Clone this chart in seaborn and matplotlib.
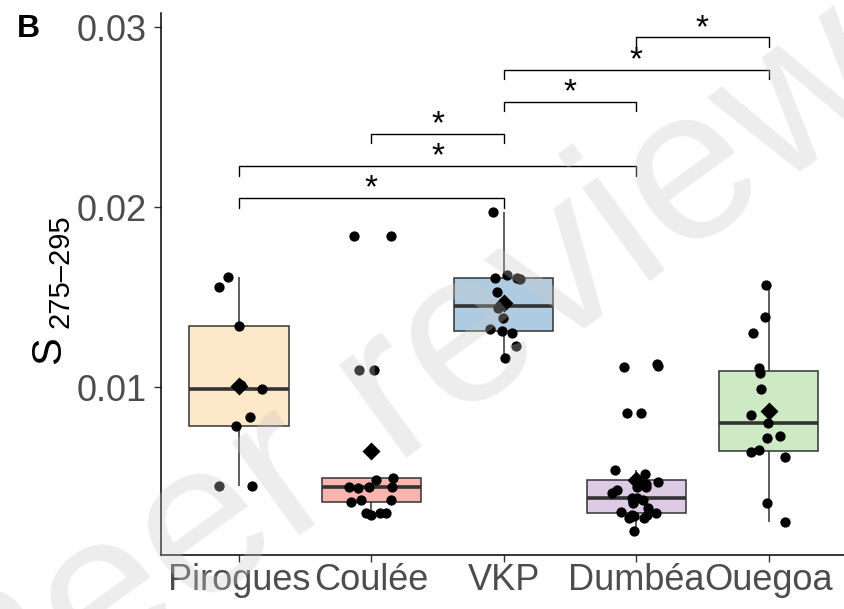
import numpy as np
import pandas as pd
import matplotlib
matplotlib.use("Agg")
import matplotlib.pyplot as plt
import seaborn as sns

# Sampling sites (x order) and S275-295 spectral slope per sample
sites = ["Pirogues", "Coulée", "VKP", "Dumbéa", "Ouegoa"]
pirogues = [0.00452, 0.00452, 0.00783, 0.00835, 0.00989, 0.01011, 0.01339,
            0.01557, 0.01609]
coulee = [0.00290, 0.00300, 0.00300, 0.00300, 0.00359, 0.00372, 0.00372,
          0.00441, 0.00446, 0.00446, 0.00446, 0.00483, 0.00494, 0.01094,
          0.01094, 0.01839, 0.01839]
vkp = [0.01163, 0.01229, 0.01298, 0.01312, 0.01320, 0.01382, 0.01437,
       0.01465, 0.01529, 0.01598, 0.01607, 0.01607, 0.01622, 0.01971]
dumbea = [0.00200, 0.00271, 0.00275, 0.00280, 0.00285, 0.00287, 0.00289,
          0.00301, 0.00307, 0.00330, 0.00354, 0.00365, 0.00375, 0.00381,
          0.00383, 0.00409, 0.00430, 0.00443, 0.00443, 0.00460, 0.00472,
          0.00517, 0.00539, 0.00854, 0.00857, 0.01113, 0.01117, 0.01126]
ouegoa = [0.00248, 0.00354, 0.00609, 0.00640, 0.00652, 0.00715, 0.00729,
          0.00802, 0.00844, 0.00989, 0.01076, 0.01107, 0.01298, 0.01391,
          0.01567]

box_colors = ["#FDE8C9", "#F9B4AE", "#AFCBE2", "#DDCAE4", "#CDEAC5"]

# Pairwise comparisons flagged as significant
comparisons = [("Pirogues", "VKP"), ("Pirogues", "Dumbéa"), ("Coulée", "VKP"),
               ("VKP", "Dumbéa"), ("VKP", "Ouegoa"), ("Dumbéa", "Ouegoa")]
signif = ["*", "*", "*", "*", "*", "*"]

y_ticks = [0.01, 0.02, 0.03]
y_ticklabels = ["0.01", "0.02", "0.03"]

values = [pirogues, coulee, vkp, dumbea, ouegoa]
df = pd.DataFrame({
    "site": np.repeat(sites, [len(v) for v in values]),
    "S": np.concatenate(values),
})

sns.set_theme(style="ticks")
plt.rcParams["font.family"] = ["Liberation Sans", "DejaVu Sans"]

np.random.seed(7)

fig = plt.figure(figsize=(8.44, 6.09), dpi=100)
ax = fig.add_axes([161 / 844, 54 / 609, (848 - 161) / 844, (555 - 13) / 609])

sns.boxplot(data=df, x="site", y="S", hue="site", order=sites, hue_order=sites,
            palette=box_colors, saturation=1, width=0.75, whis=1.5,
            showfliers=False, showcaps=False, linecolor="#333333",
            linewidth=1.1, medianprops=dict(linewidth=2.6, color="#333333"),
            legend=False, ax=ax)

sns.stripplot(data=df, x="site", y="S", order=sites, color="black", size=7.4,
              jitter=0.18, linewidth=0, ax=ax, zorder=3)

sns.pointplot(data=df, x="site", y="S", order=sites, estimator="mean",
              errorbar=None, linestyle="none", marker="D", markersize=7.2,
              color="black", ax=ax, zorder=4)

# Significance brackets
pos = {s: i for i, s in enumerate(sites)}
base, step, tip = 0.02052, 0.00178, 0.00055
for k, ((a, b), lab) in enumerate(zip(comparisons, signif)):
    y = base + k * step
    xa, xb = pos[a], pos[b]
    ax.plot([xa, xa, xb, xb], [y - tip, y, y, y - tip], color="black",
            lw=1.0, clip_on=False, zorder=5)
    ax.annotate(lab, xy=((xa + xb) / 2, y), xytext=(0, 0.5),
                textcoords="offset points", ha="center", va="baseline",
                fontsize=24, color="black", annotation_clip=False)

ax.set_xlim(-0.59, 4.6)
ax.set_ylim(0.000667, 0.03078)
ax.set_yticks(y_ticks)
ax.set_yticklabels(y_ticklabels)
ax.set_xlabel("")
ax.set_ylabel("")
for side in ("top", "right"):
    ax.spines[side].set_visible(False)
for side in ("left", "bottom"):
    ax.spines[side].set_linewidth(1.1)
    ax.spines[side].set_color("black")
ax.tick_params(axis="both", length=5, width=1, color="#333333",
               labelsize=26, labelcolor="#4D4D4D")
ax.tick_params(axis="y", pad=5.5)
ax.tick_params(axis="x", pad=1)

# Y-axis title: S with subscript wavelength range, rotated
fig.text(60 / 844, 1 - 350 / 609, "S", rotation=90, rotation_mode="anchor",
         ha="center", va="baseline", fontsize=30, color="black")
fig.text(68 / 844, 1 - 271 / 609, "275–295", rotation=90,
         rotation_mode="anchor", ha="center", va="baseline", fontsize=21,
         color="black")

fig.text(28 / 844, 1 - 29 / 609, "B", fontsize=23, fontweight="bold",
         ha="center", va="center", color="black")

# Diagonal watermark across the panel
fig.text(503 / 844, 1 - 318 / 609, "Peer reviewed", fontsize=156, rotation=36,
         rotation_mode="anchor", ha="center", va="center", color="#c8c8c8",
         alpha=0.32, zorder=10)

fig.savefig("out.png", dpi=100)
